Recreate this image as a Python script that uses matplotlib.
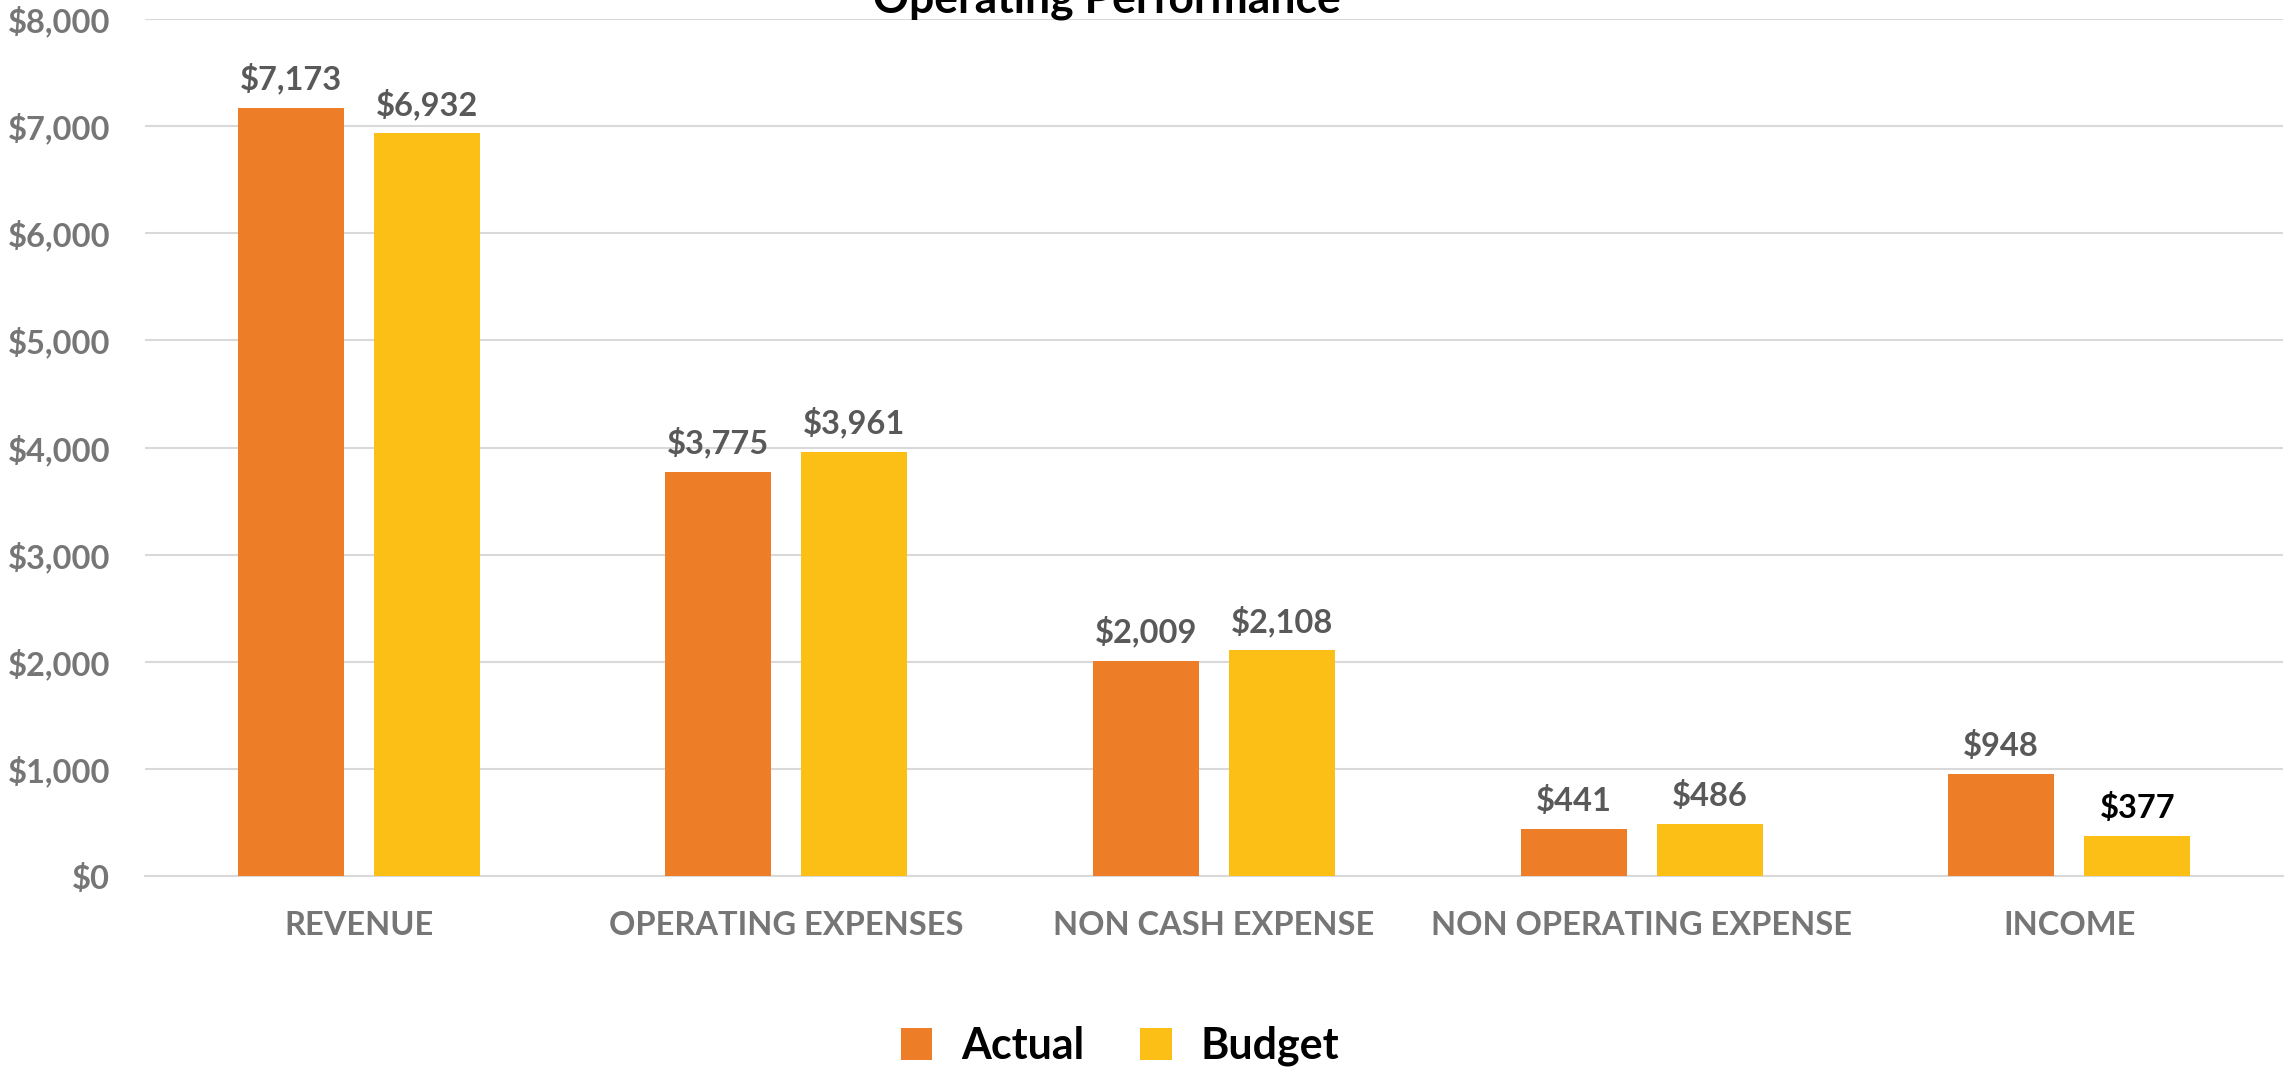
import numpy as np
import matplotlib
matplotlib.use('Agg')
import matplotlib.pyplot as plt
from matplotlib.ticker import FuncFormatter

# Dados
categories = ['REVENUE', 'OPERATING EXPENSES', 'NON CASH EXPENSE', 'NON OPERATING EXPENSE', 'INCOME']
actual = [7173, 3775, 2009, 441, 948]
budget = [6932, 3961, 2108, 486, 377]

plt.rcParams['font.family'] = ['Lato', 'DejaVu Sans']
plt.rcParams['font.weight'] = 'bold'

fig = plt.figure(figsize=(22.85, 10.73), dpi=100)
ax = fig.add_axes([145 / 2285, 1 - 876 / 1073, (2283 - 145) / 2285, (876 - 19) / 1073])

x = np.arange(len(categories))
w = 0.248
off = 0.159
b1 = ax.bar(x - off, actual, w, color='#ED7D26', label='Actual', zorder=3)
b2 = ax.bar(x + off, budget, w, color='#FBBF16', label='Budget', zorder=3)

# Rótulos de valores
for bars, vals, cols in [(b1, actual, ['#595959'] * 5), (b2, budget, ['#595959'] * 4 + ['#000000'])]:
    for rect, v, c in zip(bars, vals, cols):
        ax.annotate('${:,}'.format(v), (rect.get_x() + rect.get_width() / 2, v),
                    xytext=(0, 13), textcoords='offset points', ha='center', va='baseline',
                    fontsize=23.5, fontweight='bold', color=c)

ax.set_xlim(-0.5, len(categories) - 0.5)
ax.set_ylim(0, 8000)
ax.set_yticks(range(0, 8001, 1000))
ax.yaxis.set_major_formatter(FuncFormatter(lambda v, p: '${:,.0f}'.format(v)))
ax.set_xticks(x)
ax.set_xticklabels(categories)
ax.tick_params(axis='y', length=0, pad=25, labelsize=23.5, labelcolor='#767676')
ax.tick_params(axis='x', length=0, pad=25, labelsize=23.5, labelcolor='#767676')

ax.grid(axis='y', color='#d9d9d9', linewidth=1.5, zorder=0)
ax.set_axisbelow(True)
for s in ['top', 'right', 'left']:
    ax.spines[s].set_visible(False)
ax.spines['bottom'].set_color('#d9d9d9')
ax.spines['bottom'].set_linewidth(1.5)

# Título (cortado no topo como na imagem original)
fig.text(1107 / 2285, 1 - 13 / 1073, 'Operating Performance', ha='center', va='baseline',
         fontsize=32, fontweight='bold', color='black')

fig.legend(handles=[b1, b2], loc='center', bbox_to_anchor=(1120 / 2285, 1 - 1046 / 1073),
           ncol=2, frameon=False, fontsize=31, handlelength=0.74, handleheight=0.77,
           handletextpad=0.68, columnspacing=1.27)

fig.savefig('out.png', dpi=100)
